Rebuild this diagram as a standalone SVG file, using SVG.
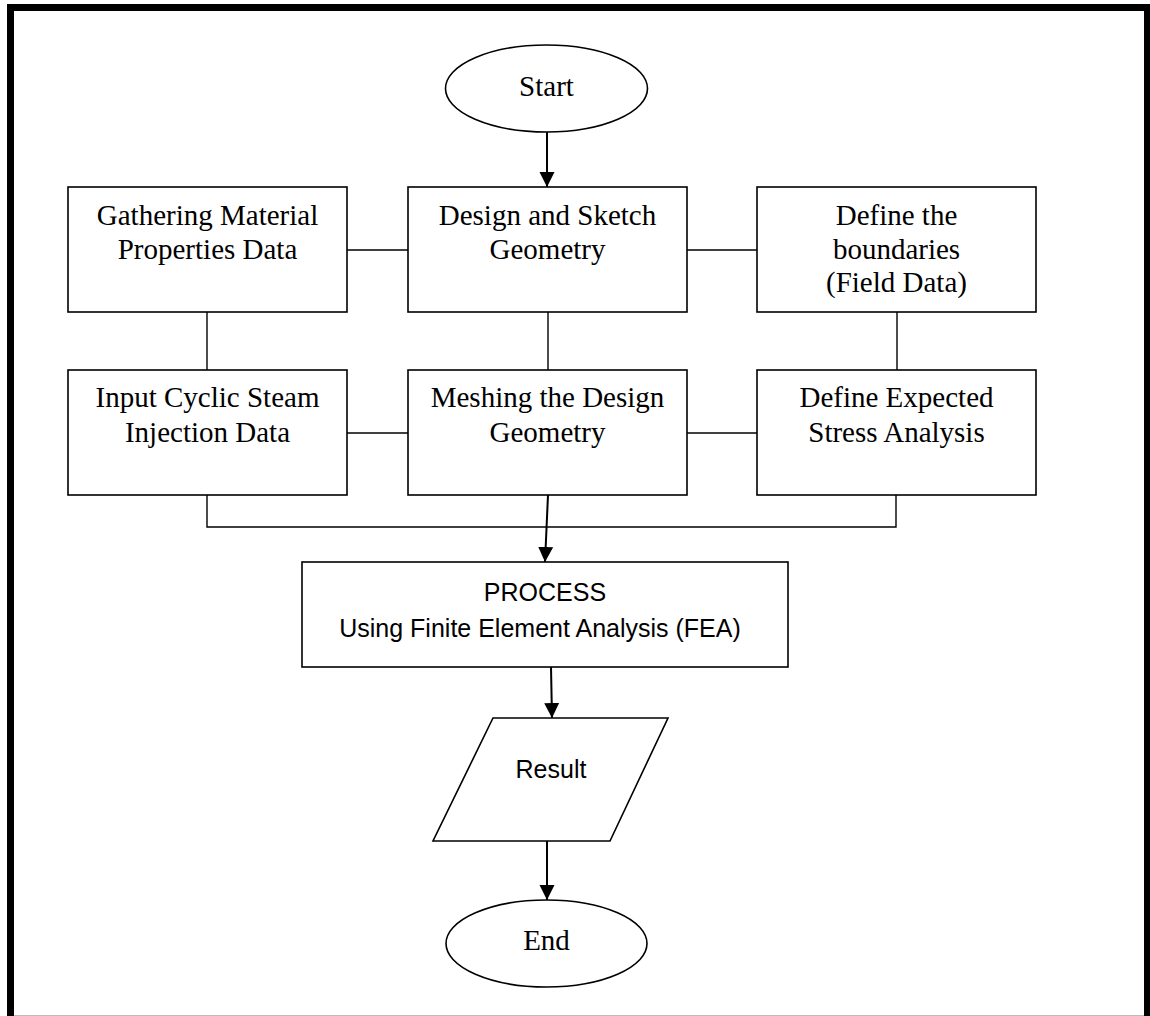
<svg xmlns="http://www.w3.org/2000/svg" width="1150" height="1016" viewBox="0 0 1150 1016">
<defs>
<style>
.box{fill:#fff;stroke:#000;stroke-width:1.6}
.ln{fill:none;stroke:#000;stroke-width:1.4}
.ar{fill:none;stroke:#000;stroke-width:2}
.t{font-family:"Liberation Serif","Times New Roman",serif;font-size:29px;fill:#000;text-anchor:middle}
.s{font-family:"Liberation Sans",Arial,sans-serif;font-size:25px;fill:#000;text-anchor:middle}
</style>
<marker id="ah" markerUnits="userSpaceOnUse" markerWidth="16" markerHeight="16" viewBox="0 0 16 16" refX="15" refY="8" orient="auto">
<path d="M0,0.5 L15,8 L0,15.5 Z" fill="#000"/>
</marker>
</defs>
<rect width="1150" height="1016" fill="#fff"/>
<g id="frame">
<rect x="10.5" y="7.5" width="1137" height="1030" fill="none" stroke="#000" stroke-width="7"/>
<line x1="14" y1="1015.5" x2="1144" y2="1015.5" stroke="#bbb" stroke-width="1"/>
</g>
<g id="connectors">
<line class="ar" x1="547" y1="132" x2="547" y2="187" marker-end="url(#ah)"/>
<line class="ln" x1="347" y1="250" x2="408" y2="250"/>
<line class="ln" x1="687" y1="250" x2="757" y2="250"/>
<line class="ln" x1="207" y1="312" x2="207" y2="370"/>
<line class="ln" x1="548" y1="312" x2="548" y2="370"/>
<line class="ln" x1="897" y1="312" x2="897" y2="370"/>
<line class="ln" x1="347" y1="433" x2="408" y2="433"/>
<line class="ln" x1="687" y1="433" x2="757" y2="433"/>
<polyline class="ln" points="207,495 207,527 896,527 896,495"/>
<line class="ar" x1="548" y1="495" x2="545" y2="562" marker-end="url(#ah)"/>
<line class="ar" x1="551" y1="667" x2="552" y2="718" marker-end="url(#ah)"/>
<line class="ar" x1="547" y1="841" x2="547" y2="900" marker-end="url(#ah)"/>
</g>
<g id="start">
<ellipse class="box" cx="546.5" cy="88.5" rx="101" ry="43.5"/>
<text class="t" x="546.5" y="96">Start</text>
</g>
<g id="gathering">
<rect class="box" x="68" y="187" width="279" height="125"/>
<text class="t" x="207.5" y="225">Gathering Material</text>
<text class="t" x="207.5" y="259">Properties Data</text>
</g>
<g id="design">
<rect class="box" x="408" y="187" width="279" height="125"/>
<text class="t" x="547.5" y="225">Design and Sketch</text>
<text class="t" x="547.5" y="259">Geometry</text>
</g>
<g id="boundaries">
<rect class="box" x="757" y="187" width="279" height="125"/>
<text class="t" x="896.5" y="225">Define the</text>
<text class="t" x="896.5" y="259">boundaries</text>
<text class="t" x="896.5" y="292">(Field Data)</text>
</g>
<g id="input">
<rect class="box" x="68" y="370" width="279" height="125"/>
<text class="t" x="207.5" y="407">Input Cyclic Steam</text>
<text class="t" x="207.5" y="442">Injection Data</text>
</g>
<g id="meshing">
<rect class="box" x="408" y="370" width="279" height="125"/>
<text class="t" x="547.5" y="407">Meshing the Design</text>
<text class="t" x="547.5" y="442">Geometry</text>
</g>
<g id="stress">
<rect class="box" x="757" y="370" width="279" height="125"/>
<text class="t" x="896.5" y="407">Define Expected</text>
<text class="t" x="896.5" y="442">Stress Analysis</text>
</g>
<g id="process">
<rect class="box" x="302" y="562" width="486" height="105"/>
<text class="s" x="545" y="601">PROCESS</text>
<text class="s" x="540" y="637">Using Finite Element Analysis (FEA)</text>
</g>
<g id="result">
<polygon class="box" points="493,718 668,718 610,841 433,841"/>
<text class="s" x="551" y="778">Result</text>
</g>
<g id="end">
<ellipse class="box" cx="546.5" cy="943.5" rx="100.5" ry="43.5"/>
<text class="t" x="546.5" y="950">End</text>
</g>
</svg>
